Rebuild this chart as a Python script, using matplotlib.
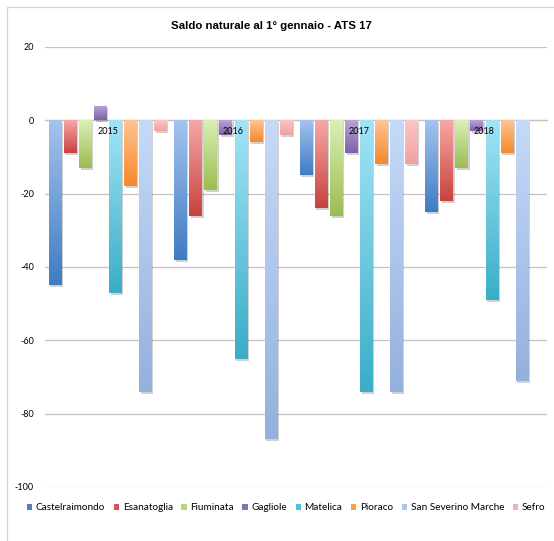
import numpy as np
import matplotlib
matplotlib.use('Agg')
import matplotlib.pyplot as plt
import matplotlib.patheffects as pe
from matplotlib.colors import LinearSegmentedColormap
from matplotlib.patches import Patch, Rectangle

# saldo naturale per comune, anni 2015-2018
years = ['2015', '2016', '2017', '2018']
towns = ['Castelraimondo', 'Esanatoglia', 'Fiuminata', 'Gagliole',
         'Matelica', 'Pioraco', 'San Severino Marche', 'Sefro']

castelraimondo = [-45, -38, -15, -25]
esanatoglia = [-9, -26, -24, -22]
fiuminata = [-13, -19, -26, -13]
gagliole = [4, -4, -9, -3]
matelica = [-47, -65, -74, -49]
pioraco = [-18, -6, -12, -9]
san_severino = [-74, -87, -74, -71]
sefro = [-3, -4, -12, 0]

series = [castelraimondo, esanatoglia, fiuminata, gagliole,
          matelica, pioraco, san_severino, sefro]

y_ticks = [20, 0, -20, -40, -60, -80, -100]

# colori stile Office: chiaro in alto, scuro in basso
top_colors = ['#a5c3ee', '#f6a8a6', '#daf0b5', '#b9a5d8',
              '#a2e4f6', '#ffc494', '#c6daf8', '#fbc6c5']
bottom_colors = ['#3e7cc2', '#c8423e', '#9cbc50', '#7d60a6',
                 '#3aadc7', '#f5892c', '#94b0dd', '#eea2a1']
legend_colors = ['#4f81bd', '#d9534f', '#b5d67c', '#8a70b0',
                 '#4fc1de', '#f9a050', '#a9c4f0', '#f5b0b0']

fig = plt.figure(figsize=(5.54, 5.41), dpi=100)
ax = fig.add_axes([45 / 554, 1 - 487 / 541, 502 / 554, 440 / 541])

# cornice esterna del grafico
fig.patches.append(Rectangle((7 / 554, -0.2), 1.2, 1.2 - 7 / 541,
                             transform=fig.transFigure, fill=False,
                             edgecolor='#d4d4d4', linewidth=0.9))

# asse delle categorie sulla linea dello zero (prima dei tick, che verrebbero azzerati)
for side in ['top', 'right', 'left']:
    ax.spines[side].set_visible(False)
ax.spines['bottom'].set_position(('data', 0))
ax.spines['bottom'].set_color('#c4c4c4')
ax.spines['bottom'].set_linewidth(0.9)
ax.spines['bottom'].set_zorder(0.6)

x = np.arange(len(years))
pitch = 0.12
width = 0.10
grad = np.linspace(0, 1, 256).reshape(-1, 1)

for j, (town, vals) in enumerate(zip(towns, series)):
    cmap = LinearSegmentedColormap.from_list(town, [top_colors[j], bottom_colors[j]])
    bars = ax.bar(x + (j - 3.5) * pitch, vals, width, color=legend_colors[j],
                  zorder=2, linewidth=0)
    for bar in bars:
        bar.set_path_effects([pe.SimplePatchShadow(offset=(1.2, -1.5),
                                                   shadow_rgbFace='#000000',
                                                   alpha=0.18),
                              pe.Normal()])
        h = bar.get_height()
        if h == 0:
            continue
        x0, y0 = bar.get_x(), bar.get_y()
        im = ax.imshow(grad, cmap=cmap, aspect='auto', origin='upper',
                       extent=(x0, x0 + bar.get_width(), min(y0, y0 + h), max(y0, y0 + h)),
                       zorder=2.1, interpolation='bilinear')
        im.set_clip_path(bar)

ax.set_xlim(-0.5, 3.5)
ax.set_ylim(-100, 20)
ax.set_yticks(y_ticks)
ax.set_yticklabels([str(t) for t in y_ticks], fontsize=6.5, family='Lato')
ax.set_xticks(x)
ax.set_xticklabels(years, fontsize=6.5, family='Lato')
ax.tick_params(axis='both', length=0)
ax.tick_params(axis='y', pad=8)
ax.tick_params(axis='x', pad=5)

ax.set_axisbelow(True)
ax.yaxis.grid(True, color='#c4c4c4', linewidth=0.9)
ax.xaxis.set_zorder(5)

fig.text(0.49, 1 - 26 / 541, 'Saldo naturale al 1° gennaio - ATS 17',
         ha='center', va='center', fontsize=8.2, fontweight='bold',
         family='Liberation Sans')

handles = [Patch(facecolor=c, edgecolor='none') for c in legend_colors]
fig.legend(handles, towns, loc='center', bbox_to_anchor=(286 / 554, 1 - 508 / 541),
           ncol=8, frameon=False, prop={'family': 'Lato', 'size': 7.2},
           handlelength=0.55, handleheight=0.55, handletextpad=0.35,
           columnspacing=0.85, borderpad=0)

fig.savefig('out.png', dpi=100)
